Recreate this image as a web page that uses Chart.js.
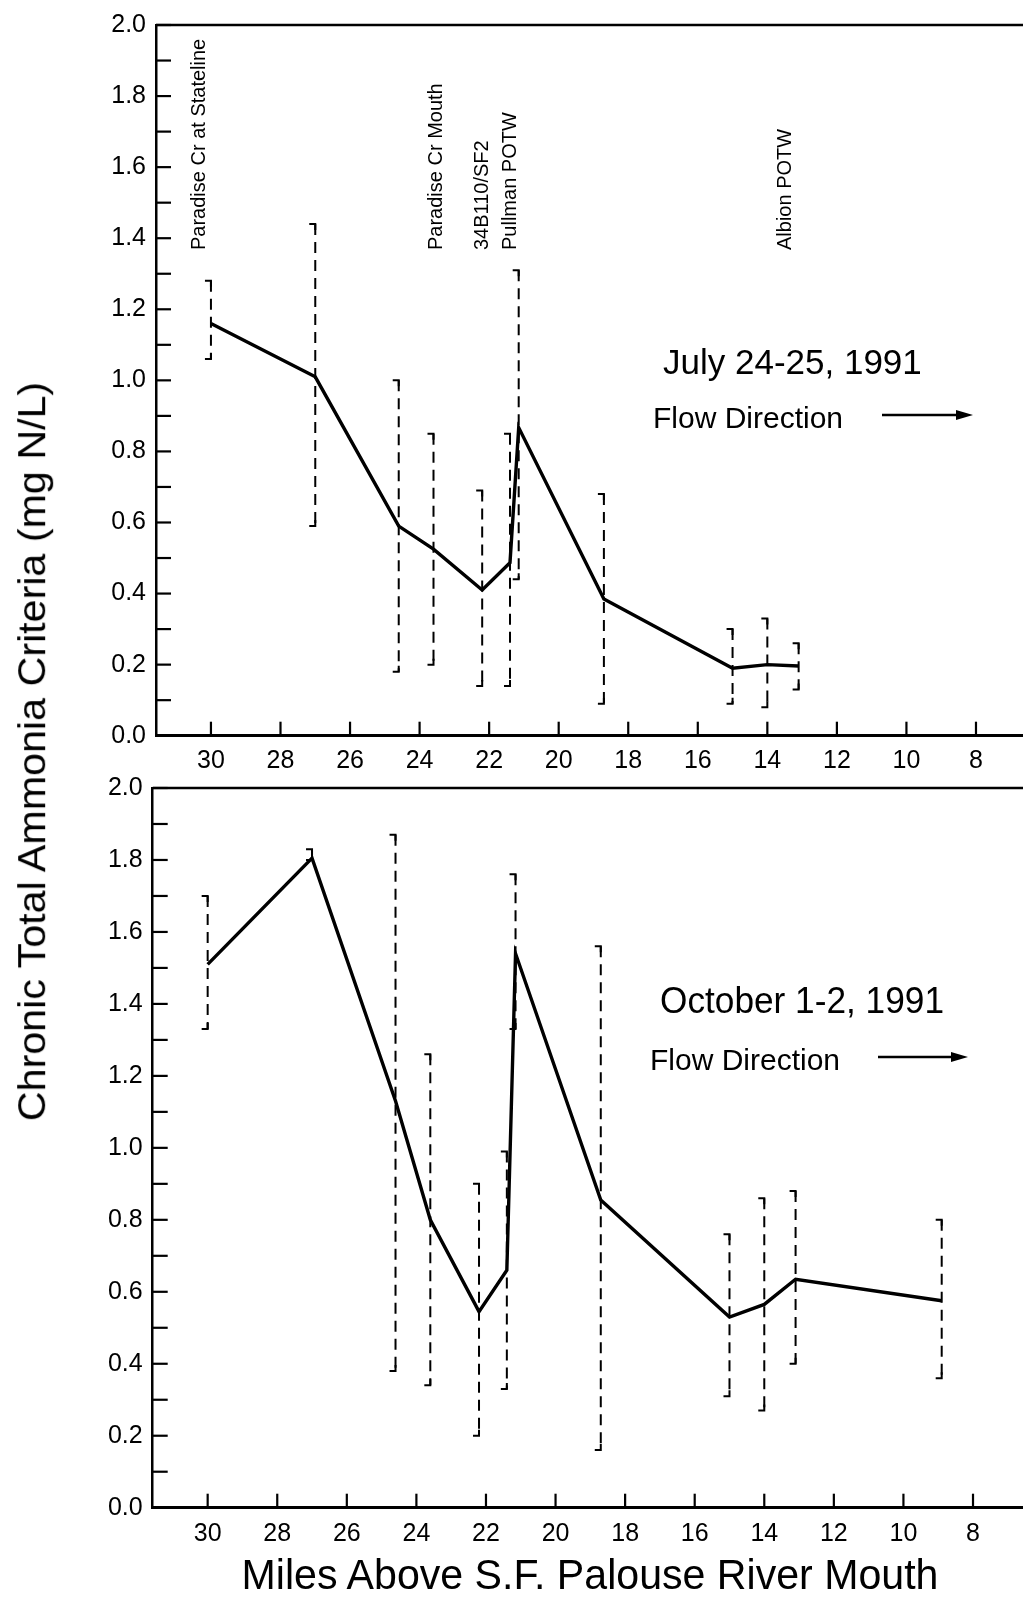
<!DOCTYPE html>
<html><head><meta charset="utf-8">
<script src="https://cdn.jsdelivr.net/npm/chart.js@4.4.0/dist/chart.umd.min.js"></script>
<style>
html,body{margin:0;padding:0;background:#fff;}
body{width:1023px;height:1598px;position:relative;overflow:hidden;font-family:"Liberation Sans",Arial,Helvetica,sans-serif;}
canvas{position:absolute;left:0;}
#c1{top:0;}
#c2{top:760px;}
.title{position:absolute;white-space:nowrap;color:#000;line-height:1;display:inline-block;}
</style></head><body>
<canvas id="c1" width="1023" height="780" style="width:1023px;height:780px"></canvas>
<canvas id="c2" width="1023" height="838" style="width:1023px;height:838px"></canvas>
<div id="ytitle" class="title" style="font-size:39px">Chronic Total Ammonia Criteria (mg N/L)</div>
<div id="xtitle" class="title" style="font-size:42px">Miles Above S.F. Palouse River Mouth</div>
<script>
// ---------- data ----------
const julyMiles = [30.0, 27.0, 24.6, 23.6, 22.2, 21.4, 21.15, 18.7, 15.0, 14.0, 13.1];
const julyVals  = [1.16, 1.01, 0.59, 0.525, 0.41, 0.487, 0.867, 0.385, 0.19, 0.20, 0.196];
const julyLo    = [1.06, 0.59, 0.18, 0.20, 0.14, 0.14, 0.44, 0.09, 0.09, 0.08, 0.13];
const julyHi    = [1.28, 1.44, 1.00, 0.85, 0.69, 0.85, 1.31, 0.68, 0.30, 0.33, 0.26];

const octMiles = [30.0, 27.0, 24.6, 23.6, 22.2, 21.4, 21.15, 18.7, 15.0, 14.0, 13.1, 8.9];
const octVals  = [1.51, 1.805, 1.13, 0.80, 0.545, 0.66, 1.54, 0.855, 0.53, 0.565, 0.635, 0.575];
const octLo    = [1.33, 1.80, 0.38, 0.34, 0.20, 0.33, 1.33, 0.16, 0.31, 0.27, 0.40, 0.36];
const octHi    = [1.70, 1.83, 1.87, 1.26, 0.90, 0.99, 1.76, 1.56, 0.76, 0.86, 0.88, 0.80];

const stationLabels = ["Paradise Cr at Stateline", "Paradise Cr Mouth", "34B110/SF2", "Pullman POTW", "Albion POTW"];
const stationLabelMiles = [30.32, 23.51, 22.19, 21.40, 13.47];

const xTickValues = [30, 28, 26, 24, 22, 20, 18, 16, 14, 12, 10, 8];
const yTickValues = [0.0, 0.1, 0.2, 0.3, 0.4, 0.5, 0.6, 0.7, 0.8, 0.9, 1.0, 1.1, 1.2, 1.3, 1.4, 1.5, 1.6, 1.7, 1.8, 1.9, 2.0];
const yLabelValues = [0.0, 0.2, 0.4, 0.6, 0.8, 1.0, 1.2, 1.4, 1.6, 1.8, 2.0];

const FONT = '"Liberation Sans", Arial, Helvetica, sans-serif';
Chart.defaults.font.family = FONT;
Chart.defaults.color = '#000';

// ---------- plugins ----------
const frame = {
  id: 'frame',
  afterDraw(chart) {
    const ctx = chart.ctx, a = chart.chartArea;
    const xs = chart.scales.x, ys = chart.scales.y;
    ctx.save();
    ctx.strokeStyle = '#000';
    ctx.lineWidth = 2.5;
    ctx.beginPath(); ctx.moveTo(a.left, a.top); ctx.lineTo(a.right, a.top); ctx.stroke();
    // inward ticks
    ctx.lineWidth = 2.2;
    ys.ticks.forEach((t, i) => {
      const y = ys.getPixelForTick(i);
      ctx.beginPath(); ctx.moveTo(a.left, y); ctx.lineTo(a.left + 15, y); ctx.stroke();
    });
    xs.ticks.forEach((t, i) => {
      const x = xs.getPixelForTick(i);
      ctx.beginPath(); ctx.moveTo(x, a.bottom); ctx.lineTo(x, a.bottom - 14); ctx.stroke();
    });
    ctx.restore();
  }
};

const errbars = {
  id: 'errbars',
  beforeDatasetsDraw(chart, args, o) {
    const ctx = chart.ctx, xs = chart.scales.x, ys = chart.scales.y;
    ctx.save();
    ctx.strokeStyle = '#000';
    ctx.lineWidth = 2;
    o.miles.forEach((m, i) => {
      const x = xs.getPixelForValue(m);
      const y1 = ys.getPixelForValue(o.hi[i]);
      const y2 = ys.getPixelForValue(o.lo[i]);
      ctx.setLineDash([11, 7]);
      ctx.beginPath(); ctx.moveTo(x, y1); ctx.lineTo(x, y2); ctx.stroke();
      ctx.setLineDash([]);
      ctx.beginPath();
      ctx.moveTo(x - 6, y1); ctx.lineTo(x, y1); ctx.lineTo(x, y1 + 6);
      ctx.moveTo(x - 6, y2); ctx.lineTo(x, y2); ctx.lineTo(x, y2 - 6);
      ctx.stroke();
    });
    ctx.restore();
  }
};

const notes = {
  id: 'notes',
  afterDraw(chart, args, o) {
    const ctx = chart.ctx, xs = chart.scales.x;
    ctx.save();
    ctx.fillStyle = '#000';
    ctx.strokeStyle = '#000';
    if (o.stations) {
      ctx.font = '20px ' + FONT;
      ctx.textAlign = 'left';
      ctx.textBaseline = 'middle';
      o.stations.forEach((s, i) => {
        const x = xs.getPixelForValue(o.stationMiles[i]);
        ctx.save();
        ctx.translate(x, o.stationBottom);
        ctx.rotate(-Math.PI / 2);
        ctx.fillText(s, 0, 0);
        ctx.restore();
      });
    }
    ctx.textAlign = 'left';
    ctx.textBaseline = 'alphabetic';
    ctx.font = o.dateFont + ' ' + FONT;
    ctx.fillText(o.date, o.dateX, o.dateY, o.dateW);
    ctx.font = '30px ' + FONT;
    ctx.fillText('Flow Direction', o.flowX, o.flowY, o.flowW);
    // arrow
    ctx.lineWidth = 2.6;
    ctx.beginPath(); ctx.moveTo(o.arrX1, o.arrY); ctx.lineTo(o.arrX2 - 12, o.arrY); ctx.stroke();
    ctx.beginPath();
    ctx.moveTo(o.arrX2, o.arrY); ctx.lineTo(o.arrX2 - 17, o.arrY - 5); ctx.lineTo(o.arrX2 - 17, o.arrY + 5);
    ctx.closePath(); ctx.fill();
    ctx.restore();
  }
};

function makeChart(id, miles, vals, lo, hi, xmin, xmax, padTop, yWidth, xHeight, xPad, noteOpts) {
  return new Chart(document.getElementById(id), {
    type: 'line',
    data: {
      datasets: [{
        data: miles.map((m, i) => ({ x: m, y: vals[i] })),
        borderColor: '#000',
        borderWidth: 3.4,
        pointRadius: 0,
        tension: 0,
        fill: false
      }]
    },
    options: {
      responsive: false,
      animation: false,
      layout: { padding: { top: padTop, left: 0, right: 0, bottom: 0 } },
      plugins: {
        legend: { display: false },
        tooltip: { enabled: false },
        errbars: { miles: miles, lo: lo, hi: hi },
        notes: noteOpts
      },
      scales: {
        x: {
          type: 'linear',
          reverse: true,
          min: xmin, max: xmax,
          afterBuildTicks: s => { s.ticks = xTickValues.map(v => ({ value: v })); },
          afterFit: s => { s.height = xHeight; },
          grid: { display: false, drawTicks: false },
          border: { display: true, color: '#000', width: 3 },
          ticks: {
            autoSkip: false, maxRotation: 0, padding: xPad,
            font: { size: 25 }, color: '#000',
            callback: v => String(v)
          }
        },
        y: {
          min: 0, max: 2,
          afterBuildTicks: s => { s.ticks = yTickValues.map(v => ({ value: v })); },
          afterFit: s => { s.width = yWidth; },
          grid: { display: false, drawTicks: false },
          border: { display: true, color: '#000', width: 2.5 },
          ticks: {
            autoSkip: false, padding: 10,
            font: { size: 25 }, color: '#000',
            callback: v => yLabelValues.some(l => Math.abs(l - v) < 1e-6) ? v.toFixed(1) : ''
          }
        }
      }
    },
    plugins: [frame, errbars, notes]
  });
}

makeChart('c1', julyMiles, julyVals, julyLo, julyHi, 6.648, 31.58, 19, 156, 44.3, 10, {
  stations: stationLabels, stationMiles: stationLabelMiles, stationBottom: 250,
  date: 'July 24-25, 1991', dateFont: '35px', dateX: 663, dateY: 374, dateW: 261,
  flowX: 653, flowY: 428, flowW: 193,
  arrX1: 882, arrX2: 973, arrY: 415
});

makeChart('c2', octMiles, octVals, octLo, octHi, 6.563, 31.58, 28, 152.7, 90.3, 11, {
  date: 'October 1-2, 1991', dateFont: '36px', dateX: 660, dateY: 253, dateW: 284,
  flowX: 650, flowY: 310, flowW: 194,
  arrX1: 878, arrX2: 968, arrY: 297
});

// ---------- axis titles (HTML text, condensed to match) ----------
(function () {
  const xt = document.getElementById('xtitle');
  const w = xt.offsetWidth, h = xt.offsetHeight;
  const k = 697 / w;
  xt.style.left = (590 - w / 2) + 'px';
  xt.style.top = (1590 - 0.8465 * 42) + 'px';
  xt.style.transform = 'scaleX(' + k + ')';
  xt.style.transformOrigin = 'center center';

  const yt = document.getElementById('ytitle');
  const w2 = yt.offsetWidth, h2 = yt.offsetHeight;
  const k2 = 739 / w2;
  yt.style.left = (31 - w2 / 2) + 'px';
  yt.style.top = (751 - h2 / 2) + 'px';
  yt.style.transformOrigin = 'center center';
  yt.style.transform = 'rotate(-90deg) scaleX(' + k2 + ')';
})();
</script>
</body></html>
